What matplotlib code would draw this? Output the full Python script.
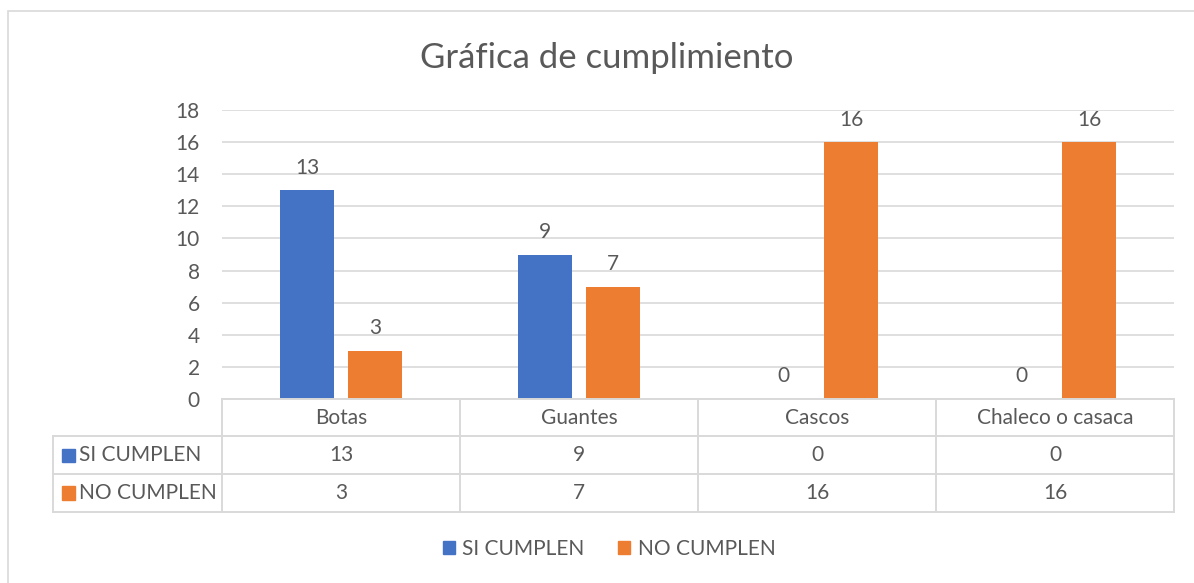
import matplotlib
matplotlib.use('Agg')
import matplotlib.pyplot as plt
import matplotlib.transforms as mtransforms
from matplotlib.lines import Line2D
from matplotlib.patches import Rectangle
import numpy as np

plt.rcParams['font.family'] = ['Lato', 'DejaVu Sans']

categorias = ['Botas', 'Guantes', 'Cascos', 'Chaleco o casaca']
series = ['SI CUMPLEN', 'NO CUMPLEN']
si_cumplen = [13, 9, 0, 0]
no_cumplen = [3, 7, 16, 16]
yticks = [0, 2, 4, 6, 8, 10, 12, 14, 16, 18]

AZUL = '#4472C4'
NARANJA = '#ED7D31'
TEXTO = '#595959'
GRIS = '#D9D9D9'
FS = 15

W, H = 1194, 583
fig = plt.figure(figsize=(W / 100, H / 100), dpi=100)

def fx(px):
    return px / W

def fy(py):
    return 1 - py / H

# borde del grafico
fig.add_artist(Rectangle((fx(8), fy(H + 5)), 1.2, fy(11) - fy(H + 5),
                         transform=fig.transFigure, fill=False,
                         edgecolor=GRIS, lw=1.2))

ax = fig.add_axes([fx(222), fy(399), fx(1174) - fx(222), fy(110) - fy(399)])
x = np.arange(len(categorias))
ancho = 0.223
desp = 0.143
b1 = ax.bar(x - desp, si_cumplen, ancho, color=AZUL, zorder=3)
b2 = ax.bar(x + desp, no_cumplen, ancho, color=NARANJA, zorder=3)

for barras in (b1, b2):
    for b in barras:
        v = b.get_height()
        ax.annotate(str(int(v)), (b.get_x() + b.get_width() / 2, v),
                    xytext=(0, 9), textcoords='offset points',
                    ha='center', va='bottom', fontsize=FS, color=TEXTO)

ax.set_xlim(-0.5, len(categorias) - 0.5)
ax.set_ylim(0, 18)
ax.set_yticks(yticks)
ax.set_xticks([])
ax.tick_params(axis='y', length=0, pad=16, labelsize=FS, labelcolor=TEXTO)
ax.grid(axis='y', color=GRIS, lw=1.2, zorder=0)
for s in ax.spines.values():
    s.set_visible(False)

fig.text(fx(607), fy(58), 'Gráfica de cumplimiento', fontsize=25,
         color=TEXTO, ha='center', va='center')

# tabla de datos bajo el eje
mix = mtransforms.blended_transform_factory(ax.transData, fig.transFigure)
filas_y = [399, 436, 474, 512]
izq = 53
fig.add_artist(Line2D([fx(222), fx(1174)], [fy(filas_y[0])] * 2,
                      transform=fig.transFigure, color=GRIS, lw=1.4))
for py in filas_y[1:]:
    fig.add_artist(Line2D([fx(izq), fx(1174)], [fy(py)] * 2,
                          transform=fig.transFigure, color=GRIS, lw=1.4))
fig.add_artist(Line2D([fx(izq), fx(izq)], [fy(filas_y[1]), fy(filas_y[3])],
                      transform=fig.transFigure, color=GRIS, lw=1.4))
for xb in np.arange(len(categorias) + 1) - 0.5:
    ax.add_line(Line2D([xb, xb], [fy(filas_y[0]), fy(filas_y[3])],
                       transform=mix, color=GRIS, lw=1.4, clip_on=False))

for i, cat in enumerate(categorias):
    ax.text(i, fy((filas_y[0] + filas_y[1]) / 2), cat, transform=mix,
            ha='center', va='center', fontsize=FS, color=TEXTO)
    for j, vals in enumerate((si_cumplen, no_cumplen)):
        ax.text(i, fy((filas_y[j + 1] + filas_y[j + 2]) / 2), str(vals[i]),
                transform=mix, ha='center', va='center', fontsize=FS,
                color=TEXTO)

for j, (nombre, col) in enumerate(zip(series, (AZUL, NARANJA))):
    yc = (filas_y[j + 1] + filas_y[j + 2]) / 2
    fig.add_artist(Rectangle((fx(62), fy(yc + 6.5)), fx(13), fy(yc - 6.5) - fy(yc + 6.5),
                             transform=fig.transFigure, color=col))
    fig.text(fx(79), fy(yc), nombre, ha='left', va='center', fontsize=FS,
             color=TEXTO)

# leyenda
hs = [Rectangle((0, 0), 1, 1, color=c) for c in (AZUL, NARANJA)]
fig.legend(hs, series, loc='center', bbox_to_anchor=(fx(609), fy(549)),
           ncol=2, frameon=False, fontsize=FS, labelcolor=TEXTO,
           handlelength=0.6, handleheight=0.6, handletextpad=0.35,
           columnspacing=1.6)

fig.savefig('out.png', dpi=100)
